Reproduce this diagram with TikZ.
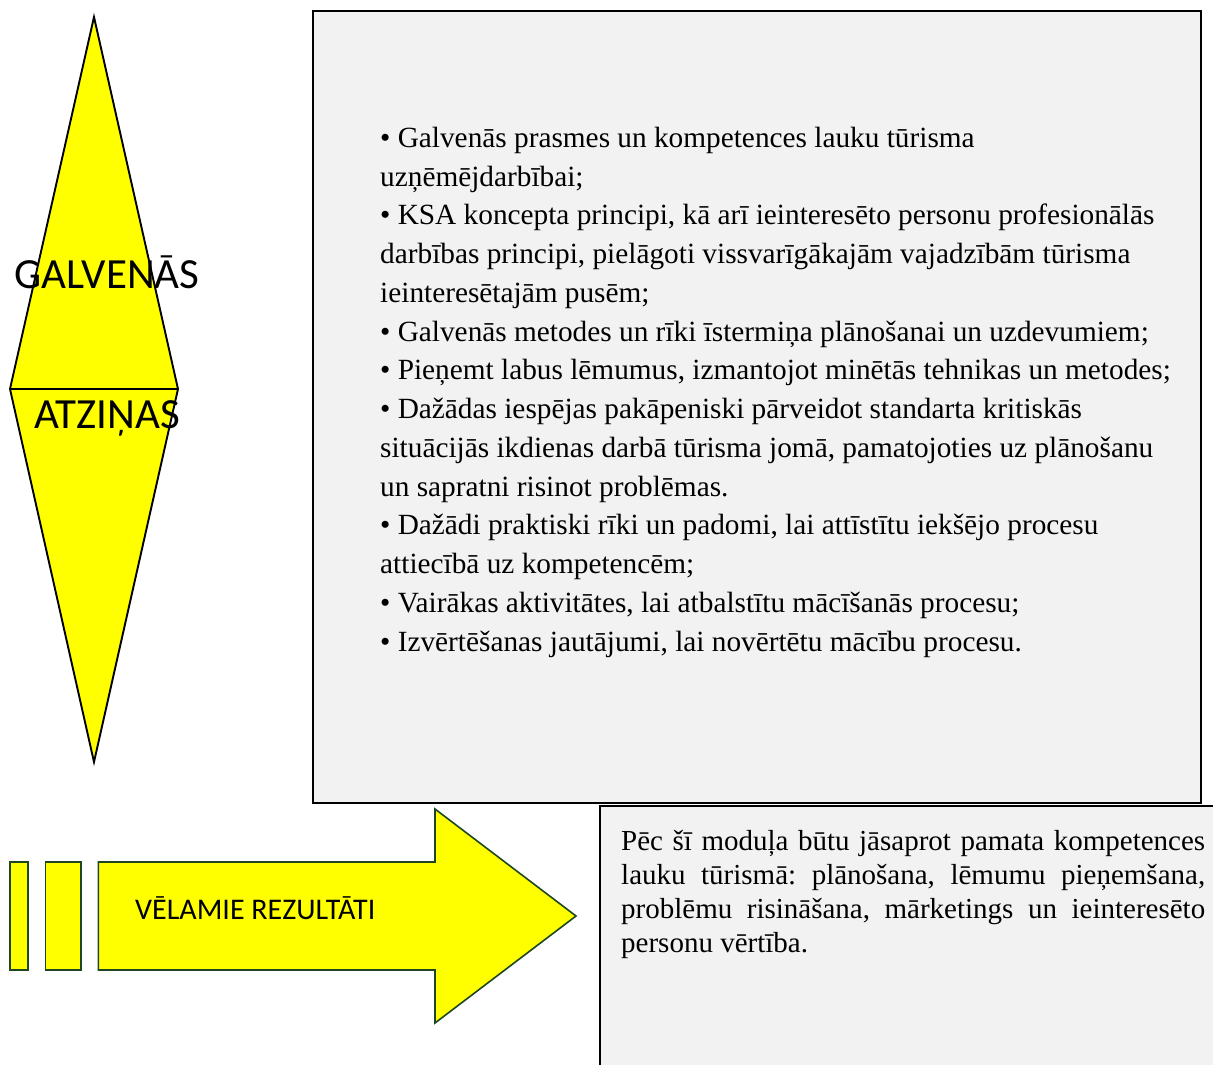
\documentclass[tikz,border=0pt]{standalone}
\usepackage{fontspec}
\setmainfont{Liberation Serif}
\newfontfamily\calib{Carlito}
\definecolor{boxgray}{HTML}{F2F2F2}
\definecolor{hiyellow}{HTML}{FFFF00}
\definecolor{arrowedge}{HTML}{1E4620}
\tikzset{
  yellowshape/.style={fill=hiyellow, draw=black, line width=1.9pt, line join=miter},
  arrowshape/.style={fill=hiyellow, draw=arrowedge, line width=1.6pt, line join=miter},
  panel/.style={fill=boxgray, draw=black, line width=1.8pt},
  bigtitle/.style={font=\calib\fontsize{43}{50}\selectfont, inner sep=0pt, anchor=base},
  bodytext/.style={font=\fontsize{29.3}{38.77}\selectfont, inner sep=0pt, align=left, anchor=base west},
}
\begin{document}
\begin{tikzpicture}[x=1pt, y=-1pt]
\useasboundingbox (0,0) rectangle (1213,1065);

% diamond split in two halves
\coordinate (dtop) at (94,17);
\coordinate (dright) at (178,389);
\coordinate (dbottom) at (94,762);
\coordinate (dleft) at (10,389);
\path[yellowshape] (dtop) -- (dright) -- (dbottom) -- (dleft) -- cycle;
\draw[line width=1.6pt] (dleft) -- (dright);
\node[bigtitle] (galv) at (107,288) {GALVENĀS};
\node[bigtitle] (atz) at (107,428.3) {ATZIŅAS};

% main content panel
\node[panel, minimum width=888pt, minimum height=792pt, anchor=north west, inner sep=0pt] (panel) at (312,10) {};
% anchored at the baseline of the last line
\node[bodytext] (list) at (380,651.3) {%
• Galvenās prasmes un kompetences lauku tūrisma\\
uzņēmējdarbībai;\\
• KSA koncepta principi, kā arī ieinteresēto personu profesionālās\\
darbības principi, pielāgoti vissvarīgākajām vajadzībām tūrisma\\
ieinteresētajām pusēm;\\
• Galvenās metodes un rīki īstermiņa plānošanai un uzdevumiem;\\
• Pieņemt labus lēmumus, izmantojot minētās tehnikas un metodes;\\
• Dažādas iespējas pakāpeniski pārveidot standarta kritiskās\\
situācijās ikdienas darbā tūrisma jomā, pamatojoties uz plānošanu\\
un sapratni risinot problēmas.\\
• Dažādi praktiski rīki un padomi, lai attīstītu iekšējo procesu\\
attiecībā uz kompetencēm;\\
• Vairākas aktivitātes, lai atbalstītu mācīšanās procesu;\\
• Izvērtēšanas jautājumi, lai novērtētu mācību procesu.};

% result panel, running off the right and bottom edges
\coordinate (rtl) at (600,806);
\fill[boxgray] (rtl) rectangle (1213,1065);
\draw[line width=1.8pt] (600,1065) -- (rtl) -- (1213,806);
% anchored at the baseline of the first line
\node[font=\fontsize{29}{33.8}\selectfont\frenchspacing, inner sep=0pt, anchor=base west, text width=584pt, align=justify] (result) at (621,850.7) {%
Pēc šī moduļa būtu jāsaprot pamata kompetences\linebreak
lauku tūrismā: plānošana, lēmumu pieņemšana,\linebreak
problēmu risināšana, mārketings un ieinteresēto\linebreak
personu vērtība.};

% striped block arrow
\draw[arrowshape] (10,862) rectangle (28,970);
\draw[arrowshape] (45.5,862) rectangle (81,970);
\coordinate (atip) at (576,916);
\path[arrowshape] (98.4,862) -- (435,862) -- (435,809) -- (atip) -- (435,1023) -- (435,970) -- (98.4,970) -- cycle;
\node[font=\calib\fontsize{30}{34}\selectfont, inner sep=0pt, anchor=base west] (want) at (135,919.3) {VĒLAMIE REZULTĀTI};
\end{tikzpicture}
\end{document}
